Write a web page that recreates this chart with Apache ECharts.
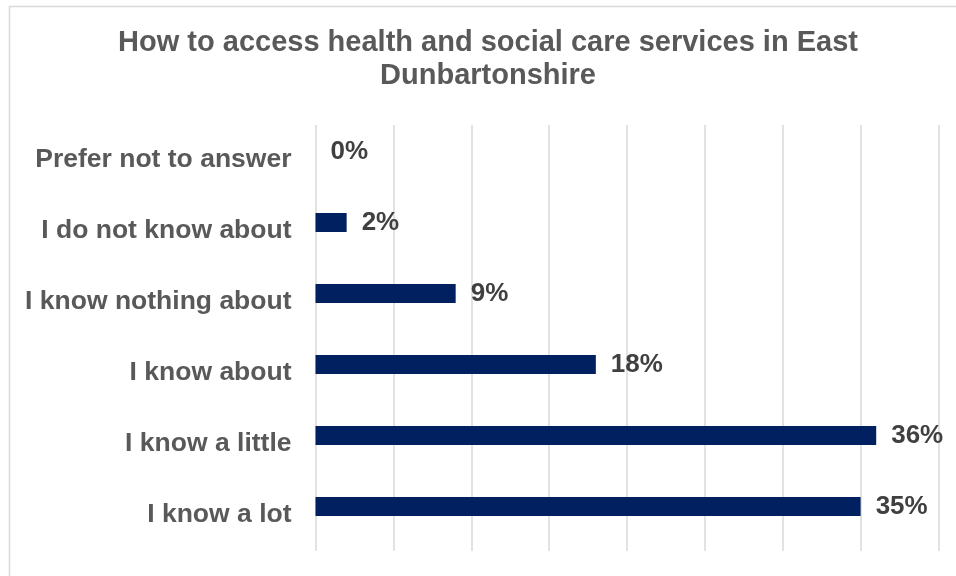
<!DOCTYPE html>
<html>
<head>
<meta charset="utf-8">
<script src="https://cdn.jsdelivr.net/npm/echarts@6/dist/echarts.min.js"></script>
<style>
  html, body { margin: 0; padding: 0; background: #ffffff; }
  #chart { width: 956px; height: 576px; }
</style>
</head>
<body>
<div id="chart"></div>
<script>
// Survey responses, listed bottom to top as they appear on the axis
const categories = [
  'I know a lot',
  'I know a little',
  'I know about',
  'I know nothing about',
  'I do not know about',
  'Prefer not to answer'
];
const percentValues = [35, 36, 18, 9, 2, 0];

const titleText = 'How to access health and social care services in East\nDunbartonshire';

const FONT = 'Liberation Sans, Arial, Helvetica, sans-serif';

const chart = echarts.init(document.getElementById('chart'), null, { renderer: 'canvas' });

chart.setOption({
  backgroundColor: '#ffffff',
  animation: false,
  title: {
    text: titleText,
    left: 488,
    top: 26,
    padding: 0,
    textAlign: 'center',
    textStyle: {
      fontFamily: FONT,
      fontSize: 29,
      fontWeight: 'bold',
      color: '#595959',
      lineHeight: 33
    }
  },
  graphic: [{
    type: 'rect',
    left: 7,
    top: 4,
    shape: { x: 0, y: 0, width: 1000, height: 620 },
    style: { fill: 'none', stroke: '#d9d9d9', lineWidth: 1.5 },
    silent: true,
    z: -10
  }],
  grid: [
    // bars and category labels
    { left: 315.5, top: 116, width: 623, height: 426, containLabel: false },
    // vertical gridlines
    { left: 315.5, top: 125, width: 623, height: 426, containLabel: false }
  ],
  xAxis: [
    {
      type: 'value', gridIndex: 0, min: 0, max: 40, interval: 5,
      axisLine: { show: false }, axisTick: { show: false },
      axisLabel: { show: false }, splitLine: { show: false }
    },
    {
      type: 'value', gridIndex: 1, min: 0, max: 40, interval: 5,
      axisLine: { show: false }, axisTick: { show: false },
      axisLabel: { show: false },
      splitLine: { show: true, lineStyle: { color: '#d9d9d9', width: 1.5 } }
    }
  ],
  yAxis: [
    {
      type: 'category', gridIndex: 0, data: categories,
      axisLine: { show: false }, axisTick: { show: false },
      axisLabel: {
        margin: 24,
        verticalAlign: 'top',
        lineHeight: 16,
        fontFamily: FONT,
        fontSize: 26.5,
        fontWeight: 'bold',
        color: '#595959'
      }
    },
    {
      type: 'value', gridIndex: 1, min: 0, max: 1, show: false,
      splitLine: { show: false }
    }
  ],
  series: [{
    type: 'bar',
    xAxisIndex: 0,
    yAxisIndex: 0,
    data: percentValues,
    barWidth: 19,
    itemStyle: { color: '#002060' },
    label: {
      show: true,
      position: 'right',
      distance: 15,
      formatter: '{c}%',
      fontFamily: FONT,
      fontSize: 26,
      fontWeight: 'bold',
      color: '#404040'
    }
  }]
});
</script>
</body>
</html>
